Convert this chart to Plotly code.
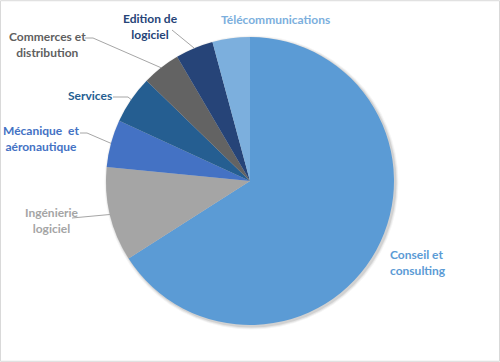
import math
import plotly.graph_objects as go

categories = ["Conseil et consulting", "Ingénierie logiciel", "Mécanique et aéronautique",
              "Services", "Commerces et distribution", "Edition de logiciel", "Télécommunications"]
values = [66.0, 10.6, 5.3, 5.4, 4.3, 4.25, 4.2]
colors = ["#5B9BD5", "#A5A5A5", "#4472C4", "#255E91", "#636363", "#264478", "#7CAFDD"]
label_texts = ["Conseil et<br>consulting", "Ingénierie<br>logiciel", "Mécanique  et<br>aéronautique",
               "Services", "Commerces et<br>distribution", "Edition de<br>logiciel", "Télécommunications"]
label_colors = ["#5B9BD5", "#A5A5A5", "#4472C4", "#255E91", "#5F5F5F", "#264478", "#7CAFDD"]

W, H = 500, 362
CX, CY, R = 250, 181, 144

def px(x):
    return x / W

def py(y):
    return 1 - y / H

fig = go.Figure()
fig.add_trace(go.Pie(
    labels=categories, values=values, sort=False, direction="clockwise", rotation=0,
    marker=dict(colors=colors, line=dict(width=0)),
    textinfo="none", hoverinfo="label+percent", showlegend=False,
    domain=dict(x=[px(CX - R), px(CX + R)], y=[py(CY + R), py(CY - R)]),
))

# label placement (text anchor positions, in pixels) and leader-line starts
label_pos = [(388, 262, "left"), (52, 220, "center"), (41, 138, "center"), (90, 95, "center"),
             (47, 44, "center"), (150, 26, "center"), (275, 20, "center")]
leader_start = [None, [(72, 218)], [(80, 133), (87, 133)], [(113, 97), (128, 97)],
                [(85, 38), (93, 38)], [(172, 30)], None]

shapes = []
# soft shadow
for dr, op in [(3, 0.04), (2, 0.06), (1, 0.09)]:
    shapes.append(dict(type="circle", xref="paper", yref="paper", layer="below",
                       x0=px(CX - R - dr + 1.5), x1=px(CX + R + dr + 1.5),
                       y0=py(CY + R + dr + 1.5), y1=py(CY - R - dr + 1.5),
                       fillcolor=f"rgba(0,0,0,{op})", line=dict(width=0)))

total = sum(values)
cum = 0.0
annotations = []
for i, v in enumerate(values):
    a0 = cum / total * 360
    cum += v
    a1 = cum / total * 360
    mid = math.radians((a0 + a1) / 2)
    ex = CX + R * math.sin(mid)
    ey = CY - R * math.cos(mid)
    if leader_start[i]:
        pts = leader_start[i] + [(ex, ey)]
        path = "M " + " L ".join(f"{px(x)},{py(y)}" for x, y in pts)
        shapes.append(dict(type="path", xref="paper", yref="paper", path=path,
                           line=dict(color="#A6A6A6", width=1)))
    x, y, al = label_pos[i]
    annotations.append(dict(x=px(x), y=py(y), xref="paper", yref="paper", text=label_texts[i],
                            showarrow=False, xanchor=al, yanchor="middle", align=al,
                            font=dict(family="Lato", size=12, color=label_colors[i], weight="bold")))

# outer border
shapes.append(dict(type="rect", xref="paper", yref="paper", x0=0.001, x1=0.999, y0=0.002, y1=0.998,
                   line=dict(color="#D9D9D9", width=1)))

fig.update_layout(width=W, height=H, margin=dict(l=0, r=0, t=0, b=0),
                  paper_bgcolor="white", plot_bgcolor="white",
                  shapes=shapes, annotations=annotations)
fig.write_html("out.html", config={"displayModeBar": False},
               post_script="document.body.style.margin='0';document.body.style.overflow='hidden';")
